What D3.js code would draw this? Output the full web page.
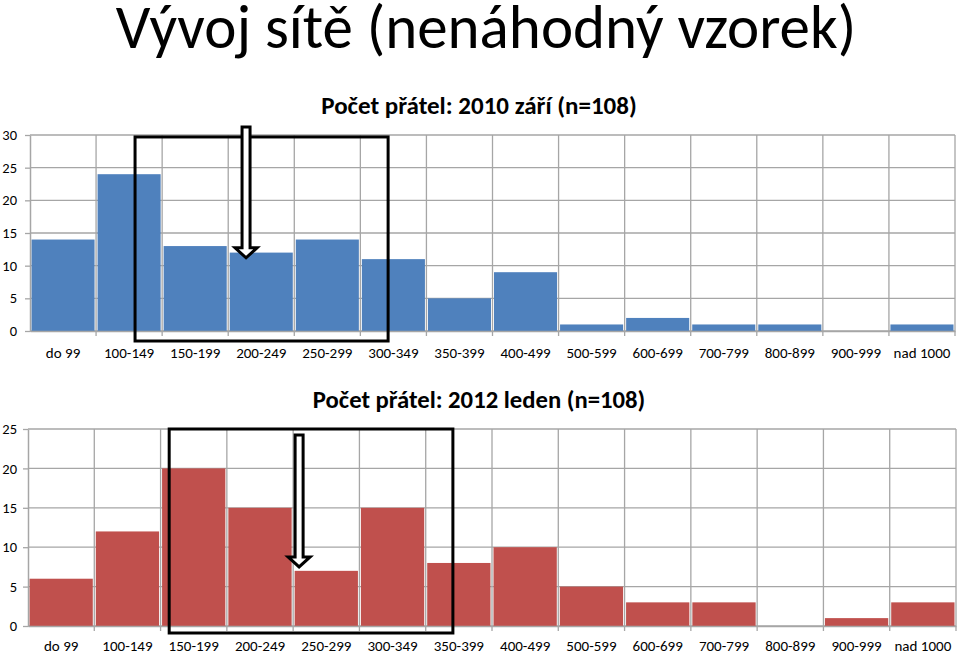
<!DOCTYPE html>
<html>
<head>
<meta charset="utf-8">
<script src="https://cdn.jsdelivr.net/npm/d3@7"></script>
<style>
  body { margin: 0; background: #fff; }
  svg { display: block; }
</style>
</head>
<body>
<div id="chart"></div>
<script>
// data
var categories = ["do 99", "100-149", "150-199", "200-249", "250-299", "300-349", "350-399",
  "400-499", "500-599", "600-699", "700-799", "800-899", "900-999", "nad 1000"];
var counts2010 = [14, 24, 13, 12, 14, 11, 5, 9, 1, 2, 1, 1, 0, 1];
var counts2012 = [6, 12, 20, 15, 7, 15, 8, 10, 5, 3, 3, 0, 1, 3];
var ticks2010 = [0, 5, 10, 15, 20, 25, 30];
var ticks2012 = [0, 5, 10, 15, 20, 25];

var mainTitle = "Vývoj sítě (nenáhodný vzorek)";
var title2010 = "Počet přátel: 2010 září (n=108)";
var title2012 = "Počet přátel: 2012 leden (n=108)";

var calibri = "Carlito, Lato, 'Open Sans', sans-serif";
var gridColor = "#a6a6a6";

var svg = d3.select("#chart")
  .append("svg")
  .attr("width", 960)
  .attr("height", 654);

svg.append("text")
  .attr("x", 486)
  .attr("y", 48)
  .attr("text-anchor", "middle")
  .attr("font-family", calibri)
  .attr("font-size", 61)
  .attr("fill", "#000")
  .text(mainTitle);

function histogram(opts) {
  var x = d3.scaleBand()
    .domain(categories)
    .range([opts.left, opts.right])
    .padding(0);
  var y = d3.scaleLinear()
    .domain([0, d3.max(opts.ticks)])
    .range([opts.bottom, opts.top]);
  var bw = x.bandwidth();

  var g = svg.append("g");

  // grid
  g.append("g").selectAll("line")
    .data(opts.ticks)
    .enter().append("line")
    .attr("x1", opts.left).attr("x2", opts.right)
    .attr("y1", d => y(d)).attr("y2", d => y(d))
    .attr("stroke", gridColor).attr("stroke-width", 1.3);
  g.append("g").selectAll("line")
    .data(categories)
    .enter().append("line")
    .attr("x1", d => x(d) + bw)
    .attr("x2", d => x(d) + bw)
    .attr("y1", y(d3.max(opts.ticks))).attr("y2", opts.bottom + 5)
    .attr("stroke", gridColor).attr("stroke-width", 1.3);

  // bars
  g.append("g").selectAll("rect")
    .data(opts.values)
    .enter().append("rect")
    .attr("x", (d, i) => x(categories[i]) + 1.5)
    .attr("y", d => y(d))
    .attr("width", bw - 3)
    .attr("height", d => opts.bottom - y(d))
    .attr("fill", opts.color);

  // axes
  var xAxis = g.append("g")
    .attr("transform", "translate(0," + opts.bottom + ")")
    .call(d3.axisBottom(x).tickSize(0).tickPadding(opts.labelPad));
  xAxis.select(".domain").attr("stroke", gridColor).attr("stroke-width", 1.5);
  xAxis.selectAll("text").attr("font-family", calibri).attr("font-size", 15).attr("fill", "#000");

  var yAxis = g.append("g")
    .attr("transform", "translate(" + opts.left + ",0)")
    .call(d3.axisLeft(y).tickValues(opts.ticks).tickSize(5).tickSizeOuter(0).tickPadding(opts.tickPad));
  yAxis.select(".domain").attr("stroke", gridColor).attr("stroke-width", 1.5);
  yAxis.selectAll("line").attr("stroke", gridColor).attr("stroke-width", 1.3);
  yAxis.selectAll("text").attr("font-family", calibri).attr("font-size", 14.5).attr("fill", "#000");

  // title
  g.append("text")
    .attr("x", opts.titleX)
    .attr("y", opts.titleY)
    .attr("text-anchor", "middle")
    .attr("font-family", calibri)
    .attr("font-weight", "bold")
    .attr("font-size", opts.titleSize)
    .text(opts.title);

  // annotation box
  var b = opts.box;
  var bx0 = x(categories[b.from]) + b.fromFrac * bw;
  var bx1 = x(categories[b.to]) + b.toFrac * bw;
  var by0 = y(b.topValue);
  g.append("rect")
    .attr("x", bx0).attr("y", by0)
    .attr("width", bx1 - bx0)
    .attr("height", opts.bottom + b.below - by0)
    .attr("fill", "none")
    .attr("stroke", "#000")
    .attr("stroke-width", 3);

  // annotation arrow
  var a = opts.arrow;
  var cx = x(categories[a.at]) + a.frac * bw;
  var top = y(a.topValue) - a.above;
  var tip = y(a.tipValue);
  var sw = 4, hw = 11, hh = 10;
  var pts = [[cx - sw, top], [cx + sw, top], [cx + sw, tip - hh], [cx + hw, tip - hh],
    [cx, tip], [cx - hw, tip - hh], [cx - sw, tip - hh]];
  g.append("path")
    .attr("d", "M" + pts.map(p => p.join(",")).join("L") + "Z")
    .attr("fill", "#fff")
    .attr("stroke", "#000")
    .attr("stroke-width", 3)
    .attr("stroke-linejoin", "miter");
}

histogram({
  values: counts2010, ticks: ticks2010, color: "#4f81bd",
  left: 30, right: 955, top: 135, bottom: 331, labelPad: 16, tickPad: 8,
  title: title2010, titleX: 479, titleY: 114, titleSize: 25,
  box: {from: 1, fromFrac: 0.59, to: 5, toFrac: 0.42, topValue: 29.7, below: 10},
  arrow: {at: 3, frac: 0.27, topValue: 30, above: 8, tipValue: 11.2}
});

histogram({
  values: counts2012, ticks: ticks2012, color: "#c0504d",
  left: 28, right: 956, top: 429, bottom: 626, labelPad: 14, tickPad: 6,
  title: title2012, titleX: 479, titleY: 408, titleSize: 24.7,
  box: {from: 2, fromFrac: 0.13, to: 6, toFrac: 0.41, topValue: 25, below: 7},
  arrow: {at: 4, frac: 0.09, topValue: 25, above: -6, tipValue: 7.5}
});
</script>
</body>
</html>
